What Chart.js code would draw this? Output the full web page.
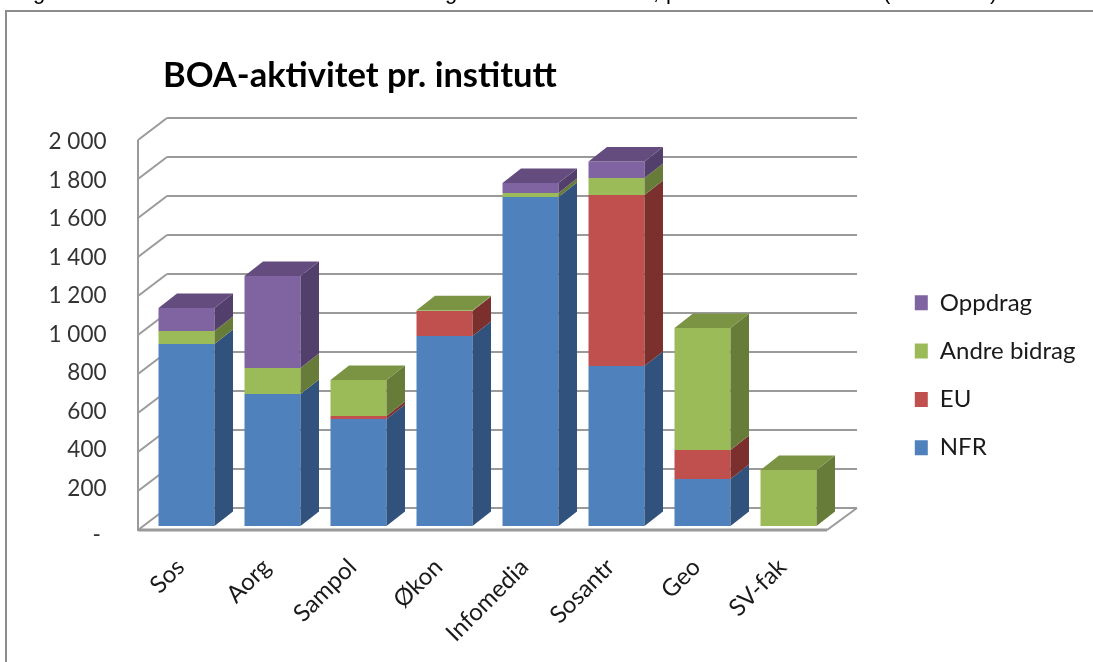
<!DOCTYPE html>
<html lang="no">
<head>
<meta charset="utf-8">
<title>BOA-aktivitet pr. institutt</title>
<script src="https://cdn.jsdelivr.net/npm/chart.js@4"></script>
<style>
  html, body { margin: 0; padding: 0; background: #fff; overflow: hidden; }
  #side { position: relative; width: 1093px; height: 662px; overflow: hidden; filter: blur(0.45px); }
  #ramme { position: absolute; left: 5px; top: 10px; width: 1200px; height: 800px; border: 2px solid #8c8c8c; }
  #myChart { position: absolute; left: 0; top: 0; }
  .rest { position: absolute; top: -20px; font: 22px/24px "Liberation Sans", sans-serif; color: #000; }
</style>
</head>
<body>
<div id="side">
  <!-- resten av figurteksten over rammen, bare nedre del synes -->
  <span class="rest" style="left:33px">g</span>
  <span class="rest" style="left:445px">g</span>
  <span class="rest" style="left:653px">,</span>
  <span class="rest" style="left:666px">p</span>
  <span class="rest" style="left:883px">(</span>
  <span class="rest" style="left:990px">)</span>
  <div id="ramme"></div>
  <canvas id="myChart" width="1093" height="662"></canvas>
</div>
<script>
// Data lest av figuren
var institutter = ['Sos', 'Aorg', 'Sampol', 'Økon', 'Infomedia', 'Sosantr', 'Geo', 'SV-fak'];
var nfr = [933, 677, 549, 974, 1687, 820, 241, 0];
var eu = [0, 0, 15, 129, 0, 877, 149, 0];
var andreBidrag = [67, 133, 185, 3, 21, 87, 625, 287];
var oppdrag = [118, 472, 0, 0, 51, 85, 0, 0];
var aksetall = [0, 200, 400, 600, 800, 1000, 1200, 1400, 1600, 1800, 2000];
var akseetiketter = ['- ', '200', '400', '600', '800', '1 000', '1 200', '1 400', '1 600', '1 800', '2 000'];

// Farger: forside, sideflate, toppflate
var farger = {
  NFR: ['#4f81bd', '#30527c', '#3f6797'],
  EU: ['#c0504d', '#7c302e', '#9a403e'],
  'Andre bidrag': ['#9bbb59', '#677c39', '#7b9443'],
  Oppdrag: ['#8064a2', '#533f6c', '#644c7e']
};

// Dybden i 3D-effekten
var dybdeX = 18.5;
var dybdeY = -14.5;
var linjeFarge = '#9a9a9a';

function flate(ctx, punkter, farge) {
  ctx.fillStyle = farge;
  ctx.beginPath();
  ctx.moveTo(punkter[0][0], punkter[0][1]);
  for (var i = 1; i < punkter.length; i++) {
    ctx.lineTo(punkter[i][0], punkter[i][1]);
  }
  ctx.closePath();
  ctx.fill();
}

function linje(ctx, x1, y1, x2, y2, bredde) {
  ctx.strokeStyle = linjeFarge;
  ctx.lineWidth = bredde;
  ctx.beginPath();
  ctx.moveTo(x1, y1);
  ctx.lineTo(x2, y2);
  ctx.stroke();
}

// Tittel og legende flyttes etter at layout er ferdig
var plassering = {
  id: 'plassering',
  afterLayout: function(chart) {
    chart.titleBlock.left = 163;
    chart.titleBlock.top = 55;
    chart.legend.left = 890.5;
    chart.legend.right = 1093;
    chart.legend.top = 266.5;
    chart.legend.bottom = 662;
  }
};

// Vegger og rutenett bak stolpene
var vegger = {
  id: 'vegger',
  beforeDatasetsDraw: function(chart) {
    var ctx = chart.ctx;
    var y = chart.scales.y;
    var a = chart.chartArea;
    var venstreFram = a.left - 5.5;
    var venstreBak = a.left + 23.5;
    var hoyreFram = a.right - 4.5;
    var hoyreBak = a.right + 25.5;
    ctx.save();
    aksetall.forEach(function(verdi) {
      var py = y.getPixelForValue(verdi);
      linje(ctx, venstreFram, py + 4, venstreBak, py - 18, 2);
      linje(ctx, venstreBak, py - 18, hoyreBak, py - 18, 2);
    });
    var null0 = y.getPixelForValue(0);
    linje(ctx, hoyreFram, null0 + 4, hoyreBak, null0 - 18, 2);
    linje(ctx, venstreFram, null0 + 4, hoyreFram, null0 + 4, 3);
    linje(ctx, venstreFram, y.getPixelForValue(2000) + 4, venstreFram, null0 + 5, 2);
    ctx.restore();
  }
};

// Side- og toppflater regnes ut fra stolpene Chart.js har laget
var stolpe3d = {
  id: 'stolpe3d',
  afterDatasetsDraw: function(chart) {
    var ctx = chart.ctx;
    ctx.save();
    institutter.forEach(function(navn, i) {
      var overst = null;
      chart.data.datasets.forEach(function(ds, d) {
        if (!ds.data[i]) return;
        var b = chart.getDatasetMeta(d).data[i];
        var h = b.x + b.width / 2;
        flate(ctx, [[h, b.y], [h + dybdeX, b.y + dybdeY], [h + dybdeX, b.base + dybdeY], [h, b.base]], farger[ds.label][1]);
        overst = { bar: b, label: ds.label };
      });
      if (overst) {
        var t = overst.bar;
        var v = t.x - t.width / 2;
        var r = t.x + t.width / 2;
        flate(ctx, [[v, t.y], [v + dybdeX, t.y + dybdeY], [r + dybdeX, t.y + dybdeY], [r, t.y]], farger[overst.label][2]);
      }
    });
    ctx.restore();
  }
};

function lagDatasett(navn, verdier) {
  return { label: navn, data: verdier, backgroundColor: farger[navn][0] };
}

var config = {
  type: 'bar',
  data: {
    labels: institutter,
    datasets: [
      lagDatasett('NFR', nfr),
      lagDatasett('EU', eu),
      lagDatasett('Andre bidrag', andreBidrag),
      lagDatasett('Oppdrag', oppdrag)
    ]
  },
  plugins: [plassering, vegger, stolpe3d],
  options: {
    responsive: false,
    animation: false,
    barPercentage: 0.651,
    categoryPercentage: 1,
    layout: { padding: { top: 94.6, right: 261.5, bottom: 0, left: 0 } },
    plugins: {
      tooltip: { enabled: false },
      title: {
        display: true,
        text: 'BOA-aktivitet pr. institutt',
        align: 'start',
        color: '#000',
        padding: 0,
        font: { family: 'Lato', size: 34.5, weight: 'bold' }
      },
      legend: {
        position: 'chartArea',
        align: 'start',
        reverse: true,
        labels: {
          boxWidth: 13,
          boxHeight: 15,
          padding: 24.3,
          color: '#1a1a1a',
          font: { family: 'Lato', size: 24 }
        }
      }
    },
    scales: {
      x: {
        stacked: true,
        afterFit: function(scale) { scale.height = 136; },
        grid: { display: false },
        border: { display: false },
        ticks: {
          autoSkip: false,
          minRotation: 45,
          maxRotation: 45,
          padding: 19,
          labelOffset: -6,
          color: '#1a1a1a',
          font: { family: 'Lato', size: 24 }
        }
      },
      // Stolpene bruker denne aksen
      y: {
        stacked: true,
        display: false,
        min: 0,
        max: 2000
      },
      // Tallene står litt tettere enn rutenettet, derfor en egen akse
      yTall: {
        position: 'left',
        min: 5.2,
        max: 2031.2,
        afterBuildTicks: function(scale) {
          scale.ticks = aksetall.map(function(v) { return { value: v }; });
        },
        afterFit: function(scale) { scale.width = 143.5; },
        grid: { display: false },
        border: { display: false },
        ticks: {
          padding: 29,
          color: '#333',
          font: function(c) {
            // streken for null står lavere enn de andre tallene
            return { family: 'Lato', size: 22.5, lineHeight: c.tick && c.tick.value === 0 ? '16px' : 1.2 };
          },
          callback: function(value) {
            var tekst = akseetiketter[aksetall.indexOf(value)];
            return value === 0 ? ['', tekst] : tekst;
          }
        }
      }
    }
  }
};

var ctx = document.getElementById('myChart').getContext('2d');
var chart = new Chart(ctx, config);
</script>
</body>
</html>
